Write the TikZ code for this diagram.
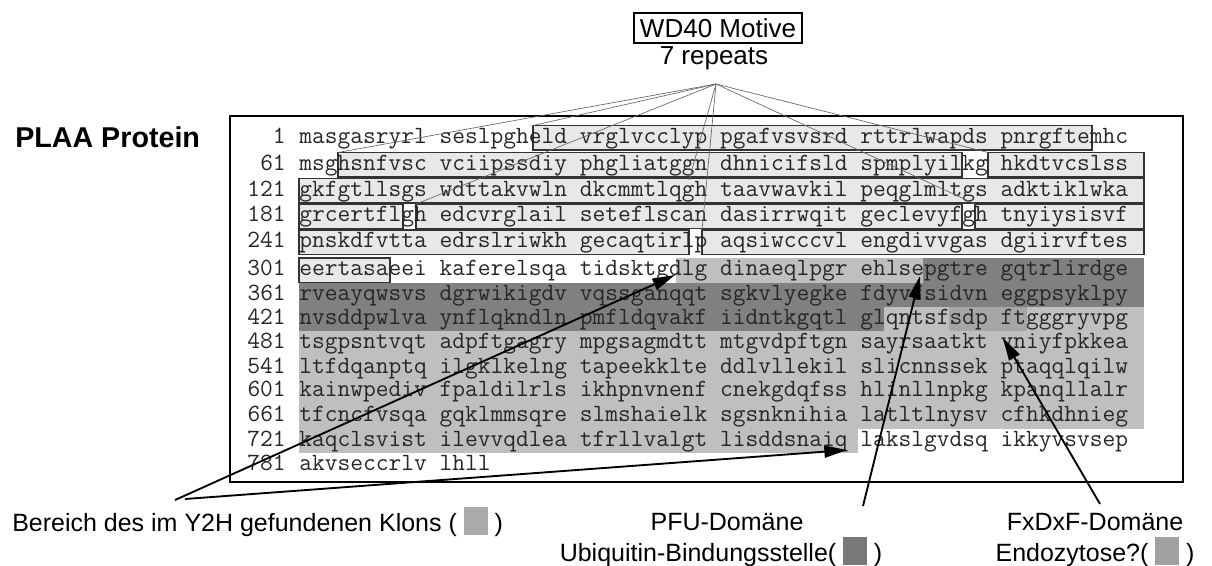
\documentclass[tikz,border=0pt]{standalone}
\usepackage{fontspec}
\setmainfont{Liberation Sans}
\usetikzlibrary{arrows.meta}
\definecolor{wdfill}{gray}{0.91}
\definecolor{y2h}{gray}{0.75}
\definecolor{pfu}{gray}{0.50}
\definecolor{fxd}{gray}{0.65}
\definecolor{legY}{gray}{0.67}
\definecolor{legP}{gray}{0.47}
\definecolor{legF}{gray}{0.63}
\definecolor{seqtxt}{gray}{0.15}
\tikzset{
  seq/.style={anchor=base west, inner sep=0pt, text=seqtxt, font=\fontsize{18.57pt}{20pt}\ttfamily},
  num/.style={anchor=base east, inner sep=0pt, text=seqtxt, font=\fontsize{18.57pt}{20pt}\ttfamily},
  wdbox/.style={draw=black!80, fill=wdfill, line width=0.9pt},
  fan/.style={draw=black!60, line width=0.5pt},
  arr/.style={-{Triangle[length=17pt,width=9pt]}, line width=1.4pt},
  lbl/.style={font=\fontsize{18.75pt}{22pt}\selectfont, inner sep=0pt},
  frame/.style={draw=black, line width=1.1pt}
}
\newcommand{\sq}[1]{\textcolor{#1}{\rule[-0.12em]{0.95em}{1.1em}}}
\begin{document}
\begin{tikzpicture}[x=0.75pt,y=-0.75pt]
\useasboundingbox (0,0) rectangle (1212,565);

% title
\node[draw, line width=0.9pt, minimum width=126pt, minimum height=22.5pt, inner sep=0pt,
      font=\fontsize{19.5pt}{22pt}\selectfont] (wd) at (718,28) {WD40 Motive};
\node[font=\fontsize{19.5pt}{22pt}\selectfont, inner sep=0pt] (rep) at (714,58) {7 repeats};
\coordinate (apex) at (716,84);

\node[font=\bfseries\fontsize{21.5pt}{24pt}\selectfont, anchor=west, inner sep=0pt] (plaa) at (15,137) {PLAA Protein};

% frame
\draw[frame] (230,116) rectangle (1183,482);

% shading (Y2H, PFU, FxDxF)
\fill[y2h] (676,257.5) rectangle (923,283);
\fill[pfu] (923,257.5) rectangle (1144,283);
\fill[pfu] (299,283) rectangle (1144,307);
\fill[pfu] (299,307) rectangle (884,331.3);
\fill[y2h] (884,307) rectangle (949,331.3);
\fill[fxd] (949,307) rectangle (1027,331.3);
\fill[y2h] (1027,307) rectangle (1144,331.3);
\fill[y2h] (299,331.3) rectangle (1144,428.9);
\fill[y2h] (299,428.9) rectangle (858,453);

% WD40 repeat boxes
\draw[wdbox] (533,125.5) rectangle (1092,150);
\draw[wdbox] (338,152.5) rectangle (962,177);
\draw[wdbox] (988,152.5) rectangle (1144,177);
\draw[wdbox] (299,178.5) rectangle (1144,203);
\draw[wdbox] (299,204) rectangle (403,228.5);
\draw[wdbox] (416,204) rectangle (962,228.5);
\draw[wdbox] (975,204) rectangle (1144,228.5);
\draw[wdbox] (299,230) rectangle (689,254.5);
\draw[wdbox] (702,230) rectangle (1144,254.5);
\draw[wdbox] (299,258) rectangle (390,282.5);

\coordinate (w1) at (533,125.5);
\coordinate (w2) at (338,152.5);
\coordinate (w3) at (988,152.5);
\coordinate (w4) at (689,180);
\coordinate (w5) at (416,204);
\coordinate (w6) at (975,204);
\coordinate (w7) at (702,230);

% sequence
\node[num] (n1) at (286,143) {1};
\node[seq] (s1) at (299,143) {masgasryrl seslpgheld vrglvcclyp pgafvsvsrd rttrlwapds pnrgftemhc};
\node[num] (n2) at (286,170) {61};
\node[seq] (s2) at (299,170) {msghsnfvsc vciipssdiy phgliatggn dhnicifsld spmplyilkg hkdtvcslss};
\node[num] (n3) at (286,196) {121};
\node[seq] (s3) at (299,196) {gkfgtllsgs wdttakvwln dkcmmtlqgh taavwavkil peqglmltgs adktiklwka};
\node[num] (n4) at (286,221.5) {181};
\node[seq] (s4) at (299,221.5) {grcertflgh edcvrglail seteflscan dasirrwqit geclevyfgh tnyiysisvf};
\node[num] (n5) at (286,247.5) {241};
\node[seq] (s5) at (299,247.5) {pnskdfvtta edrslriwkh gecaqtirlp aqsiwcccvl engdivvgas dgiirvftes};
\node[num] (n6) at (286,275.7) {301};
\node[seq] (s6) at (299,275.7) {eertasaeei kaferelsqa tidsktgdlg dinaeqlpgr ehlsepgtre gqtrlirdge};
\node[num] (n7) at (286,300) {361};
\node[seq] (s7) at (299,300) {rveayqwsvs dgrwikigdv vqssganqqt sgkvlyegke fdyvfsidvn eggpsyklpy};
\node[num] (n8) at (286,324.3) {421};
\node[seq] (s8) at (299,324.3) {nvsddpwlva ynflqkndln pmfldqvakf iidntkgqtl glqntsfsdp ftgggryvpg};
\node[num] (n9) at (286,348.3) {481};
\node[seq] (s9) at (299,348.3) {tsgpsntvqt adpftgagry mpgsagmdtt mtgvdpftgn sayrsaatkt vniyfpkkea};
\node[num] (n10) at (286,373) {541};
\node[seq] (s10) at (299,373) {ltfdqanptq ilgklkelng tapeekklte ddlvllekil slicnnssek ptaqqlqilw};
\node[num] (n11) at (286,396.7) {601};
\node[seq] (s11) at (299,396.7) {kainwpediv fpaldilrls ikhpnvnenf cnekgdqfss hlinllnpkg kpanqllalr};
\node[num] (n12) at (286,421.7) {661};
\node[seq] (s12) at (299,421.7) {tfcncfvsqa gqklmmsqre slmshaielk sgsnknihia latltlnysv cfhkdhnieg};
\node[num] (n13) at (286,446) {721};
\node[seq] (s13) at (299,446) {kaqclsvist ilevvqdlea tfrllvalgt lisddsnaiq lakslgvdsq ikkyvsvsep};
\node[num] (n14) at (286,470) {781};
\node[seq] (s14) at (299,470) {akvseccrlv lhll};

% fan lines
\foreach \w in {w1,w2,w3,w4,w5,w6,w7} \draw[fan] (apex) -- (\w);

% legend labels
\node[lbl, anchor=west] (lab1) at (12,522) {Bereich des im Y2H gefundenen Klons ( \sq{legY} )};
\node[lbl] (lab2) at (727,522) {PFU-Domäne};
\node[lbl] (lab3) at (721,552) {Ubiquitin-Bindungsstelle( \sq{legP} )};
\node[lbl] (lab4) at (1095,522) {FxDxF-Domäne};
\node[lbl] (lab5) at (1095,552) {Endozytose?( \sq{legF} )};

% arrows
\coordinate (aA) at (175,500);
\coordinate (tA) at (675,275);
\coordinate (aB) at (185,499);
\coordinate (tB) at (847,450);
\coordinate (aC) at (863,506);
\coordinate (tC) at (920,276);
\coordinate (aD) at (1100,504);
\coordinate (tD) at (1003,338);
\draw[arr] (aA) -- (tA);
\draw[arr] (aB) -- (tB);
\draw[arr] (aC) -- (tC);
\draw[arr] (aD) -- (tD);
\end{tikzpicture}
\end{document}
